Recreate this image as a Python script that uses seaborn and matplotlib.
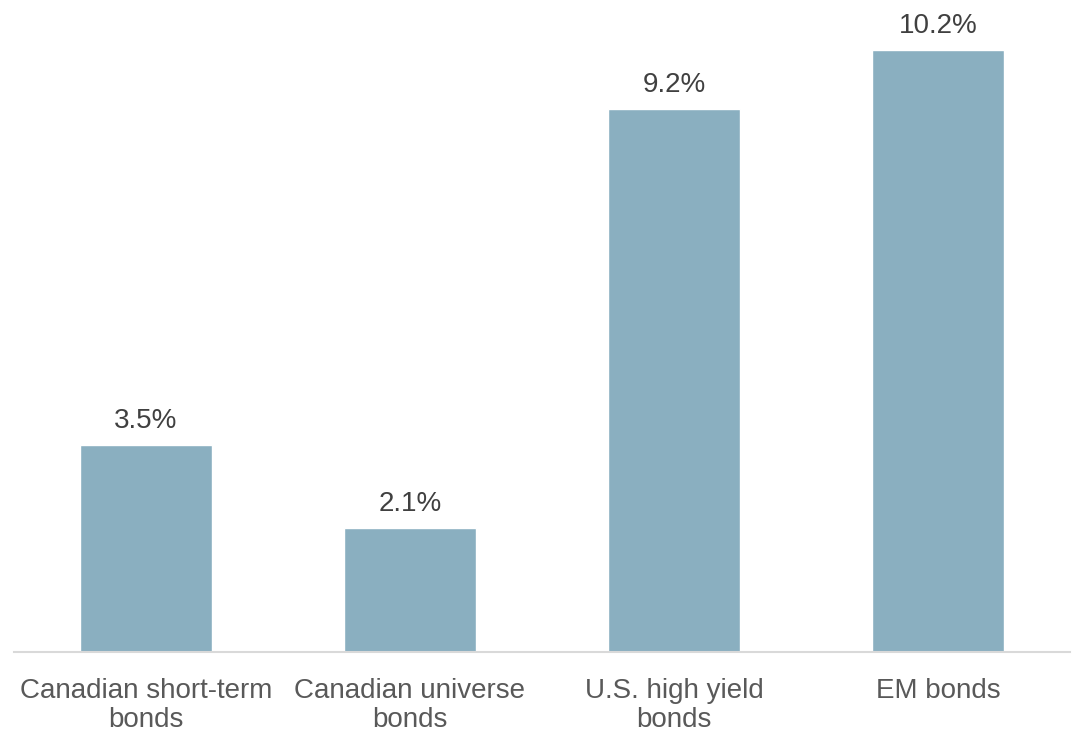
import matplotlib
matplotlib.use("Agg")
import matplotlib.pyplot as plt
import seaborn as sns
import pandas as pd

categories = ["Canadian short-term\nbonds", "Canadian universe\nbonds", "U.S. high yield\nbonds", "EM bonds"]
returns = [3.5, 2.1, 9.2, 10.2]
value_labels = ["3.5%", "2.1%", "9.2%", "10.2%"]

sns.set_theme(style="white")
plt.rcParams["font.family"] = ["Liberation Sans", "DejaVu Sans"]

df = pd.DataFrame({"category": categories, "value": returns})

fig = plt.figure(figsize=(10.76, 7.31), dpi=100)
ax = fig.add_axes([14 / 1076, 79 / 731, 1056 / 1076, 652 / 731])

sns.barplot(data=df, x="category", y="value", color="#8AAFC0", saturation=1,
            width=0.5, ax=ax)

ax.set_xlim(-0.5, 3.5)
ax.set_ylim(0, 11.05)

for i, (v, lab) in enumerate(zip(returns, value_labels)):
    ax.annotate(lab, (i, v), xytext=(0, 8), textcoords="offset points",
                ha="center", va="bottom", fontsize=20, color="#404040")

for s in ["top", "right", "left"]:
    ax.spines[s].set_visible(False)
ax.spines["bottom"].set_color("#D9D9D9")
ax.spines["bottom"].set_linewidth(1.5)
ax.set_yticks([])
ax.set_xlabel("")
ax.set_ylabel("")
ax.tick_params(axis="x", length=0, pad=19, labelsize=20, labelcolor="#595959")
for t in ax.get_xticklabels():
    t.set_linespacing(1.12)

fig.savefig("out.png", dpi=100)
